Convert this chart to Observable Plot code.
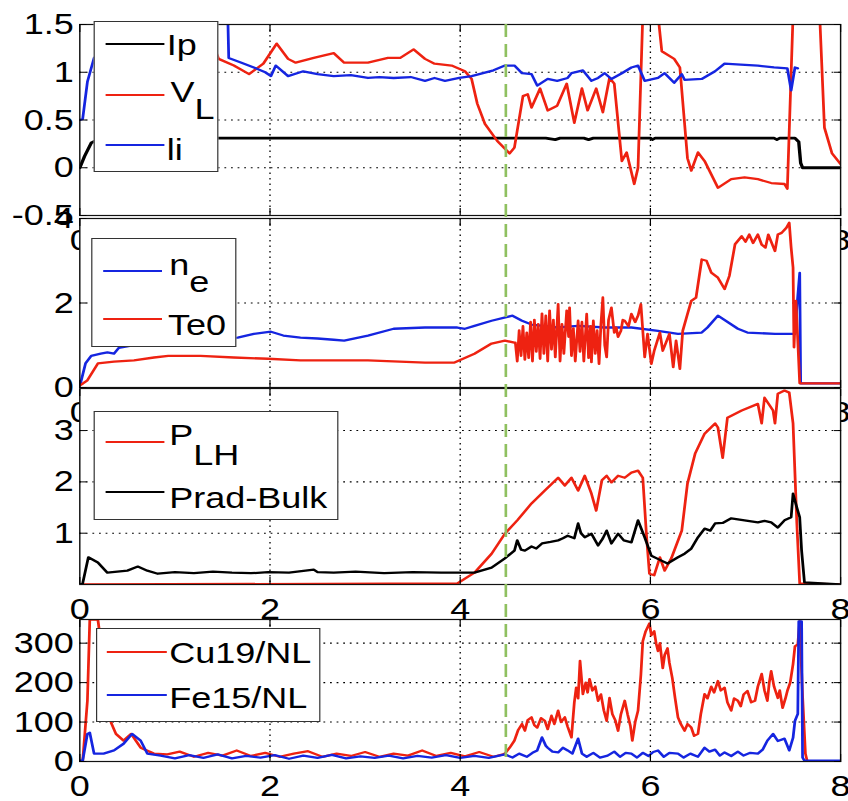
<!DOCTYPE html>
<html><head><meta charset="utf-8">
<script src="https://cdn.jsdelivr.net/npm/d3@7"></script>
<script src="https://cdn.jsdelivr.net/npm/@observablehq/plot@0.6"></script>
<style>
html,body{margin:0;padding:0;background:#fff;}
#fig{position:relative;width:707px;height:801px;transform:scaleX(1.2);transform-origin:0 0;font-family:"Liberation Sans",Arial,sans-serif;}
#fig svg{position:absolute;left:0;top:0;}
.leg{position:absolute;background:#fff;border:1px solid #333;box-sizing:border-box;}
.sw{position:absolute;height:2px;}
.lt{position:absolute;font-size:30px;line-height:30px;white-space:nowrap;color:#000;}
.sub{position:relative;}
</style></head><body><div id="fig"></div><script>
// ---------- data (time in s) ----------
const xTicks = [0, 2, 4, 6, 8];
const xGrid = [2, 4, 6];
const markerT = 4.48;

const p1Ticks = [-0.5, 0, 0.5, 1, 1.5];
const p2Ticks = [0, 2, 4];
const p3Ticks = [1, 2, 3];
const p4Ticks = [0, 100, 200, 300];

const Ip = [[0,0],[0.05,0.12],[0.12,0.26],[0.2,0.3],[0.4,0.31],[1.0,0.31],[2.0,0.31],[3.0,0.31],[4.0,0.31],[4.9,0.31],[5.0,0.295],[5.05,0.31],[5.3,0.31],[5.35,0.295],[5.4,0.31],[6.0,0.31],[6.02,0.295],[6.05,0.31],[7.3,0.31],[7.33,0.295],[7.36,0.31],[7.52,0.31],[7.56,0.27],[7.58,0.05],[7.6,0.0],[8,0.0]];

const VL = [[0,3],[1.3,3],[1.4,1.3],[1.46,1.14],[1.62,1.07],[1.78,0.98],[1.93,1.09],[2.07,1.30],[2.19,1.14],[2.27,1.10],[2.46,1.15],[2.67,1.20],[2.78,1.10],[3.03,1.10],[3.24,1.15],[3.37,1.15],[3.51,1.24],[3.63,1.14],[3.73,1.09],[3.91,1.07],[4.05,1.01],[4.12,0.93],[4.18,0.67],[4.26,0.46],[4.39,0.28],[4.52,0.15],[4.57,0.21],[4.66,0.75],[4.71,0.77],[4.75,0.63],[4.84,0.83],[4.92,0.60],[5.02,0.65],[5.12,0.88],[5.20,0.47],[5.28,0.83],[5.34,0.60],[5.43,0.83],[5.50,0.58],[5.57,0.94],[5.62,0.88],[5.70,0.07],[5.75,0.16],[5.83,-0.17],[5.87,0.0],[5.92,1.6],[6.0,2.5],[6.08,1.6],[6.12,1.22],[6.25,1.14],[6.31,1.05],[6.39,0.10],[6.43,-0.03],[6.50,0.16],[6.57,0.07],[6.71,-0.21],[6.85,-0.12],[6.99,-0.10],[7.13,-0.12],[7.27,-0.16],[7.41,-0.17],[7.44,-0.22],[7.50,1.6],[7.63,3.0],[7.78,1.6],[7.83,0.42],[7.91,0.15],[7.99,0.05],[8.0,0.04]];

const Li = [[0,0.5],[0.03,0.51],[0.08,0.9],[0.15,1.15],[0.3,1.3],[0.5,1.6],[1.5,1.6],[1.556,1.6],[1.566,1.15],[1.7,1.1],[1.83,1.05],[1.95,1.0],[2.01,0.96],[2.06,1.07],[2.19,0.96],[2.35,1.01],[2.5,0.98],[2.67,0.96],[2.85,0.97],[3.03,0.94],[3.15,0.95],[3.30,0.94],[3.48,0.95],[3.63,0.91],[3.73,0.94],[3.84,0.91],[3.99,0.94],[4.12,0.96],[4.24,0.99],[4.35,1.02],[4.47,1.07],[4.57,1.07],[4.65,0.99],[4.75,0.98],[4.81,0.86],[4.92,0.93],[5.02,0.91],[5.13,0.94],[5.17,0.99],[5.29,1.02],[5.38,0.91],[5.45,0.94],[5.52,0.99],[5.59,0.93],[5.70,0.99],[5.80,1.05],[5.87,1.07],[5.94,0.91],[6.08,0.94],[6.15,0.99],[6.25,0.89],[6.33,0.98],[6.36,0.92],[6.54,0.93],[6.68,1.01],[6.78,1.09],[6.95,1.08],[7.13,1.07],[7.3,1.05],[7.44,1.04],[7.48,0.81],[7.52,1.05],[7.55,1.04]];

const ne = [[0,0.05],[0.01,0.12],[0.06,0.57],[0.12,0.75],[0.22,0.80],[0.29,0.83],[0.36,0.80],[0.41,0.94],[0.8,1.1],[1.2,1.15],[1.66,1.18],[1.83,1.27],[2.01,1.32],[2.14,1.23],[2.32,1.18],[2.50,1.16],[2.67,1.13],[2.78,1.11],[3.03,1.23],[3.30,1.39],[3.63,1.42],[3.97,1.42],[4.05,1.39],[4.15,1.46],[4.33,1.58],[4.55,1.70],[4.65,1.58],[4.75,1.49],[5.02,1.42],[5.24,1.46],[5.52,1.42],[5.80,1.42],[6.08,1.34],[6.29,1.27],[6.54,1.30],[6.60,1.42],[6.71,1.70],[6.92,1.39],[7.02,1.30],[7.31,1.27],[7.52,1.27],[7.54,1.89],[7.57,2.71],[7.58,0.1],[8,0.1]];

const Te0 = [[0,0.05],[0.03,0.09],[0.08,0.17],[0.19,0.57],[0.36,0.61],[0.57,0.64],[0.78,0.71],[0.93,0.75],[1.27,0.75],[1.62,0.71],[1.98,0.68],[2.32,0.64],[3.03,0.64],[3.63,0.59],[3.94,0.59],[4.15,0.80],[4.33,1.04],[4.47,1.11],[4.57,1.06],[4.58,1.06],[4.60,0.62],[4.62,1.35],[4.64,0.75],[4.66,1.45],[4.68,0.66],[4.70,1.30],[4.72,0.70],[4.74,1.55],[4.76,0.62],[4.78,1.60],[4.80,0.85],[4.82,1.50],[4.84,0.68],[4.86,1.75],[4.88,0.80],[4.90,1.70],[4.92,0.62],[4.94,1.82],[4.96,0.90],[4.98,1.60],[5.00,0.72],[5.03,1.97],[5.05,0.62],[5.07,1.50],[5.09,0.80],[5.12,1.82],[5.14,1.20],[5.15,1.89],[5.17,0.75],[5.19,1.40],[5.21,0.62],[5.24,1.58],[5.26,0.85],[5.28,1.55],[5.30,0.62],[5.33,1.74],[5.35,0.70],[5.37,1.45],[5.38,0.60],[5.40,1.58],[5.42,0.80],[5.44,1.35],[5.46,0.56],[5.48,1.50],[5.50,2.13],[5.52,1.00],[5.54,0.72],[5.56,1.60],[5.59,1.89],[5.62,1.30],[5.64,1.42],[5.66,1.20],[5.69,1.34],[5.71,1.60],[5.73,1.58],[5.77,1.45],[5.80,1.74],[5.84,1.55],[5.87,1.70],[5.90,1.97],[5.94,0.72],[5.97,1.27],[6.01,0.56],[6.04,0.87],[6.10,1.30],[6.13,0.87],[6.20,1.27],[6.24,0.48],[6.27,1.11],[6.31,0.44],[6.34,1.34],[6.39,1.74],[6.43,2.05],[6.48,2.13],[6.54,3.03],[6.59,3.00],[6.64,2.72],[6.71,2.60],[6.78,2.33],[6.83,2.64],[6.89,3.39],[6.96,3.58],[7.0,3.45],[7.04,3.62],[7.08,3.42],[7.13,3.62],[7.17,3.38],[7.21,3.31],[7.24,3.62],[7.31,3.23],[7.34,3.62],[7.38,3.66],[7.43,3.78],[7.46,3.90],[7.48,3.31],[7.50,2.84],[7.51,0.95],[7.53,2.05],[7.55,1.11],[7.57,0.1],[8.0,0.1]];

const PLH = [[0,0],[3.97,0.02],[4.15,0.23],[4.33,0.60],[4.47,0.99],[4.60,1.25],[4.75,1.58],[4.89,1.83],[5.03,2.08],[5.10,1.93],[5.17,2.08],[5.24,1.83],[5.31,2.12],[5.38,1.77],[5.43,1.44],[5.49,2.03],[5.54,2.12],[5.59,1.99],[5.66,2.12],[5.73,2.08],[5.80,2.18],[5.87,2.22],[5.92,2.08],[5.96,0.92],[5.99,0.21],[6.04,0.18],[6.10,0.53],[6.15,0.27],[6.22,0.51],[6.33,1.05],[6.39,1.97],[6.47,2.55],[6.57,2.94],[6.68,3.14],[6.71,3.06],[6.76,2.47],[6.81,3.25],[6.96,3.39],[7.13,3.52],[7.17,3.14],[7.20,3.64],[7.29,3.39],[7.31,3.14],[7.34,3.72],[7.41,3.78],[7.46,3.74],[7.50,3.14],[7.54,1.19],[7.57,0.02],[8,0]];

const Prad = [[0,0],[0.03,0.02],[0.09,0.53],[0.19,0.43],[0.29,0.23],[0.50,0.27],[0.61,0.35],[0.71,0.27],[0.82,0.21],[1.0,0.24],[1.2,0.22],[1.4,0.25],[1.6,0.23],[1.8,0.22],[1.98,0.24],[2.2,0.23],[2.46,0.29],[2.5,0.24],[2.67,0.23],[2.9,0.25],[3.2,0.22],[3.5,0.24],[3.8,0.23],[4.15,0.23],[4.33,0.33],[4.47,0.51],[4.57,0.66],[4.60,0.86],[4.64,0.68],[4.68,0.66],[4.75,0.74],[4.80,0.70],[4.86,0.80],[4.95,0.83],[5.03,0.86],[5.08,0.90],[5.13,0.95],[5.2,0.90],[5.24,1.19],[5.27,1.0],[5.31,0.92],[5.38,0.99],[5.45,0.76],[5.5,0.9],[5.54,1.05],[5.59,0.80],[5.66,0.99],[5.72,0.86],[5.80,0.82],[5.87,1.25],[5.94,0.92],[6.01,0.56],[6.1,0.48],[6.18,0.41],[6.29,0.53],[6.36,0.6],[6.43,0.70],[6.50,0.92],[6.57,1.09],[6.63,1.05],[6.68,1.19],[6.76,1.2],[6.85,1.29],[6.99,1.25],[7.13,1.21],[7.2,1.24],[7.27,1.21],[7.34,1.11],[7.41,1.25],[7.48,1.31],[7.50,1.77],[7.54,1.50],[7.57,1.31],[7.59,0.66],[7.62,0.04],[8,0]];

const Cu19 = [[0,0],[0.03,0],[0.08,154],[0.105,360],[0.19,360],[0.25,250],[0.3,130],[0.33,98],[0.38,70],[0.46,53],[0.54,70],[0.64,35],[0.78,20],[0.92,18],[1.05,25],[1.2,12],[1.35,22],[1.5,15],[1.65,28],[1.8,14],[1.95,22],[2.1,12],[2.25,20],[2.4,26],[2.55,12],[2.7,20],[2.85,14],[3.0,24],[3.15,12],[3.3,20],[3.45,15],[3.6,28],[3.75,14],[3.9,22],[4.05,13],[4.2,24],[4.35,12],[4.45,18],[4.47,20],[4.52,35],[4.57,53],[4.61,80],[4.65,95],[4.68,78],[4.71,105],[4.75,112],[4.78,92],[4.81,86],[4.85,110],[4.89,103],[4.92,82],[4.96,116],[4.99,95],[5.03,129],[5.06,100],[5.10,112],[5.13,88],[5.17,61],[5.2,150],[5.22,187],[5.24,160],[5.26,255],[5.29,171],[5.32,200],[5.34,175],[5.36,209],[5.39,180],[5.42,190],[5.45,154],[5.48,170],[5.51,130],[5.54,103],[5.57,161],[5.6,120],[5.63,105],[5.66,78],[5.69,120],[5.73,154],[5.76,120],[5.79,90],[5.81,53],[5.84,100],[5.87,129],[5.9,220],[5.92,305],[5.95,330],[5.99,350],[6.01,320],[6.04,330],[6.06,300],[6.08,280],[6.1,300],[6.13,237],[6.15,270],[6.18,287],[6.2,250],[6.23,212],[6.26,160],[6.29,112],[6.32,95],[6.36,78],[6.39,95],[6.43,86],[6.46,65],[6.50,70],[6.53,120],[6.57,171],[6.6,160],[6.64,190],[6.67,175],[6.71,204],[6.74,180],[6.78,187],[6.81,150],[6.85,129],[6.88,160],[6.92,154],[6.95,140],[6.98,170],[7.02,179],[7.06,150],[7.10,154],[7.13,190],[7.17,222],[7.2,180],[7.23,154],[7.25,200],[7.27,229],[7.3,190],[7.34,161],[7.36,180],[7.39,136],[7.42,160],[7.44,179],[7.47,200],[7.50,247],[7.52,292],[7.55,297],[7.57,355],[7.60,166],[7.63,20],[7.65,0],[8,0]];

const Fe15 = [[0,2],[0.03,2],[0.08,70],[0.105,73],[0.15,20],[0.25,20],[0.36,28],[0.46,45],[0.55,70],[0.64,53],[0.71,20],[0.85,15],[1.0,8],[1.15,16],[1.3,9],[1.45,18],[1.6,8],[1.75,14],[1.9,10],[2.05,16],[2.2,7],[2.35,15],[2.5,9],[2.65,17],[2.8,8],[2.95,13],[3.1,9],[3.25,15],[3.4,8],[3.55,14],[3.7,10],[3.85,16],[4.0,9],[4.15,14],[4.3,9],[4.47,18],[4.55,10],[4.62,20],[4.7,12],[4.76,22],[4.81,28],[4.86,61],[4.9,40],[4.92,35],[4.97,25],[5.03,23],[5.08,35],[5.13,28],[5.18,20],[5.24,58],[5.28,20],[5.33,12],[5.4,22],[5.47,10],[5.55,15],[5.62,25],[5.68,12],[5.74,22],[5.80,20],[5.86,10],[5.92,22],[5.98,14],[6.03,24],[6.08,28],[6.14,12],[6.2,22],[6.29,20],[6.35,10],[6.42,20],[6.5,12],[6.57,35],[6.62,25],[6.68,30],[6.73,15],[6.78,23],[6.85,14],[6.92,25],[6.98,15],[7.05,22],[7.13,20],[7.18,30],[7.23,53],[7.29,70],[7.34,52],[7.41,58],[7.46,28],[7.5,60],[7.52,103],[7.55,121],[7.56,355],[7.59,355],[7.60,10],[7.62,2],[8,2]];

// ---------- drawing ----------
const RED = "#ee2211", BLUE = "#1525e0", BLACK = "#000000", GREEN = "#8fc060";
const W = 707, H = 801;
const fig = document.getElementById("fig");
const fmt = d => String(d);
const blank = () => "";
const gridStyle = {stroke: "#000", strokeOpacity: 1, strokeDasharray: "1.5,4", strokeWidth: 1.1};

function panel({top, bottom, domain, yTicks, series, extra = []}) {
  return Plot.plot({
    width: W, height: H,
    marginLeft: 66, marginRight: 7, marginTop: top, marginBottom: H - bottom,
    style: {background: "transparent", overflow: "visible", fontFamily: "Liberation Sans, Arial, sans-serif", fontSize: "30px", color: "#000"},
    x: {domain: [0, 8]},
    y: {domain},
    marks: [
      Plot.frame({fill: "white", stroke: null}),
      Plot.gridX(xGrid, gridStyle),
      Plot.gridY(yTicks, gridStyle),
      ...series.map(s => Plot.line(s.data, {x: d => d[0], y: d => d[1], stroke: s.color, strokeWidth: s.width ?? 2.3, clip: true})),
      Plot.frame({stroke: "#111", strokeWidth: 1.2}),
      Plot.axisX(xTicks, {anchor: "bottom", tickSize: -7, tickFormat: blank, label: null}),
      Plot.axisX(xTicks, {anchor: "top", tickSize: -7, tickFormat: blank, label: null}),
      Plot.axisY(yTicks, {anchor: "left", tickSize: -6, tickFormat: blank, label: null}),
      Plot.axisY(yTicks, {anchor: "right", tickSize: -6, tickFormat: blank, label: null}),
      Plot.axisX(xTicks, {anchor: "bottom", tickSize: 0, tickPadding: 13, tickFormat: fmt, fontSize: 30, label: null}),
      Plot.axisY(yTicks, {anchor: "left", tickSize: 0, tickPadding: 5, tickFormat: fmt, fontSize: 30, label: null}),
      ...extra
    ]
  });
}

const tops = [24, 218, 388, 619];
fig.append(panel({top: tops[0], bottom: 215, domain: [-0.5, 1.5], yTicks: p1Ticks,
  series: [{data: Ip, color: BLACK, width: 2.8}, {data: VL, color: RED}, {data: Li, color: BLUE}]}));
fig.append(panel({top: tops[1], bottom: 387, domain: [0, 4], yTicks: p2Ticks,
  series: [{data: ne, color: BLUE}, {data: Te0, color: RED}]}));
fig.append(panel({top: tops[2], bottom: 584, domain: [0, 3.82], yTicks: p3Ticks,
  series: [{data: PLH, color: RED}, {data: Prad, color: BLACK}]}));
fig.append(panel({top: tops[3], bottom: 761, domain: [0, 360], yTicks: p4Ticks,
  series: [{data: Cu19, color: RED}, {data: Fe15, color: BLUE}],
  extra: [Plot.ruleX([markerT], {stroke: GREEN, strokeWidth: 2.2, strokeDasharray: "13,7", insetTop: -(tops[3] - tops[0])})]}));

// ---------- legends ----------
function legend(box, entries) {
  const d = document.createElement("div");
  d.className = "leg";
  Object.assign(d.style, {left: box.l + "px", top: box.t + "px", width: box.w + "px", height: box.h + "px"});
  fig.append(d);
  for (const e of entries) {
    const s = document.createElement("div");
    s.className = "sw";
    Object.assign(s.style, {left: e.sx + "px", width: e.sw + "px", top: (e.sy - 1) + "px", background: e.color});
    fig.append(s);
    const t = document.createElement("div");
    t.className = "lt";
    Object.assign(t.style, {left: e.tx + "px", top: (e.base - 25.4) + "px"});
    t.textContent = e.text;
    if (e.sub) {
      const sb = document.createElement("span");
      sb.className = "sub";
      sb.style.top = e.subDy + "px";
      sb.textContent = e.sub;
      t.append(sb);
    }
    fig.append(t);
  }
}
legend({l: 78.3, t: 21, w: 103.3, h: 151}, [
  {text: "Ip", color: BLACK, sx: 88.3, sw: 49, sy: 44, tx: 139, base: 55},
  {text: "V", sub: "L", subDy: 17, color: RED, sx: 88.3, sw: 49, sy: 95, tx: 142, base: 102},
  {text: "li", color: BLUE, sx: 88.3, sw: 49, sy: 145, tx: 139, base: 160}
]);
legend({l: 75.8, t: 238, w: 120.8, h: 109}, [
  {text: "n", sub: "e", subDy: 17, color: BLUE, sx: 85.8, sw: 49, sy: 271, tx: 141, base: 275},
  {text: "Te0", color: RED, sx: 85.8, sw: 49, sy: 319, tx: 140, base: 335}
]);
legend({l: 78.3, t: 411, w: 203.3, h: 109}, [
  {text: "P", sub: "LH", subDy: 20, color: RED, sx: 88.3, sw: 49, sy: 442, tx: 141, base: 445},
  {text: "Prad-Bulk", color: BLACK, sx: 88.3, sw: 49, sy: 492, tx: 141, base: 508}
]);
legend({l: 80, t: 628, w: 186.7, h: 94}, [
  {text: "Cu19/NL", color: RED, sx: 89.2, sw: 50, sy: 652, tx: 141, base: 663},
  {text: "Fe15/NL", color: BLUE, sx: 89.2, sw: 50, sy: 695, tx: 141, base: 708}
]);
</script></body></html>
